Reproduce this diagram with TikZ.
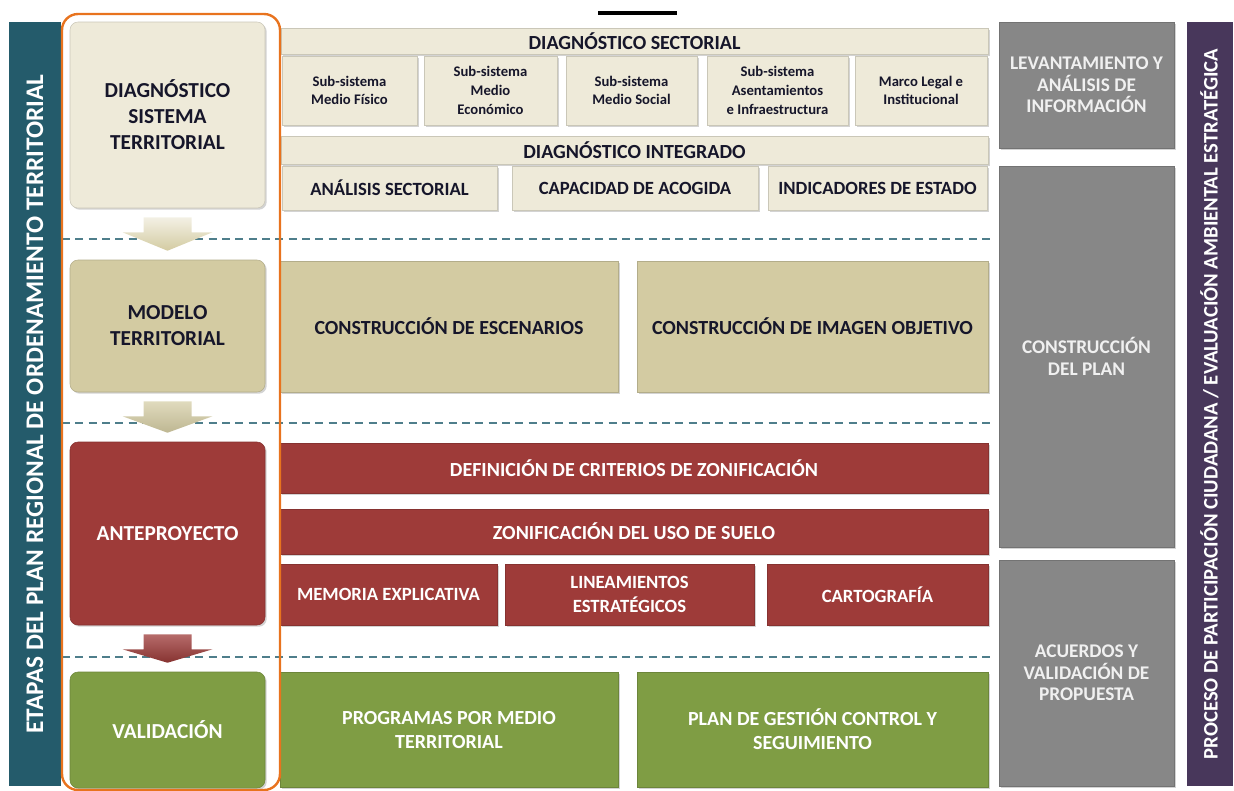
\documentclass[tikz,border=0pt]{standalone}
\usepackage{fontspec}
\setmainfont{Carlito}
\usetikzlibrary{positioning,shadows,calc}

\definecolor{cEtapa}{HTML}{245B6B}
\definecolor{cProceso}{HTML}{48375B}
\definecolor{cGris}{HTML}{878787}
\definecolor{cCrema}{HTML}{EEEAD9}
\definecolor{cArena}{HTML}{D3CBA2}
\definecolor{cRojo}{HTML}{9E3B39}
\definecolor{cVerde}{HTML}{7F9D44}
\definecolor{cNaranja}{HTML}{E8731E}
\definecolor{cRaya}{HTML}{4E7E8B}
\definecolor{cTinta}{HTML}{16162A}

\tikzset{
  wh/.style 2 args={minimum width=#1*0.75pt, minimum height=#2*0.75pt},
  caja/.style={inner sep=1pt, align=center, drop shadow={opacity=.35, shadow xshift=1.3pt, shadow yshift=-1.3pt}},
  etapa/.style={caja, rounded corners=6pt, font=\bfseries\fontsize{16}{19.5}\selectfont},
  crema/.style={fill=cCrema, draw=cCrema!85!black, text=cTinta},
  arena/.style={fill=cArena, draw=cArena!85!black, text=cTinta},
  rojo/.style={fill=cRojo, draw=cRojo!85!black, text=white},
  verde/.style={fill=cVerde, draw=cVerde!85!black, text=white},
  gris/.style={caja, fill=cGris, draw=cGris!85!black, text=white!94!black, font=\bfseries\fontsize{14.5}{16}\selectfont},
  cabeza/.style={font=\bfseries\fontsize{15}{18}\selectfont},
  subt/.style={font=\bfseries\fontsize{11}{14}\selectfont},
  medio/.style={font=\bfseries\fontsize{14}{18.5}\selectfont},
  raya/.style={cRaya, dash pattern=on 6pt off 4pt, line width=1pt},
}

\begin{document}
\begin{tikzpicture}[x=0.75pt,y=-0.75pt]
  \useasboundingbox (0,0) rectangle (1234,790);
  \draw[line width=2.3pt] (598,13) -- (677,13);

  % separadores entre etapas
  \foreach \y in {239,423,657}
    \draw[raya] (62,\y) -- (995,\y);

  % barras laterales
  \node[fill=cEtapa, wh={764}{52}, rotate=90, text=white,
        font=\bfseries\fontsize{19}{21}\selectfont] (etapas) at (35,404)
        {ETAPAS DEL PLAN REGIONAL DE ORDENAMIENTO TERRITORIAL};
  \node[fill=cProceso, wh={764}{46}, rotate=90, text=white,
        font=\bfseries\fontsize{15.5}{18}\selectfont] (proceso) at (1209.5,404)
        {PROCESO DE PARTICIPACIÓN CIUDADANA / EVALUACIÓN AMBIENTAL ESTRATÉGICA};

  % etapas
  \node[etapa, crema, wh={195}{186}] (diag) at (167.5,115) {DIAGNÓSTICO\\SISTEMA\\TERRITORIAL};
  \node[etapa, arena, wh={195}{132}] (modelo) at (167.5,326) {MODELO\\TERRITORIAL};
  \node[etapa, rojo, wh={195}{183}] (ante) at (167.5,533.5) {ANTEPROYECTO};
  \node[etapa, verde, wh={195}{116}] (valid) at (167.5,730) {VALIDACIÓN};

  % diagnostico
  \node[caja, crema, cabeza, wh={707}{26}] (sect) at (634.5,41) {DIAGNÓSTICO SECTORIAL};
  \node[caja, crema, subt, wh={135}{69}] (s1) at (349.5,90.5) {Sub-sistema\\Medio Físico};
  \node[caja, crema, subt, wh={133}{69}] (s2) at (490.5,90.5) {Sub-sistema\\Medio\\Económico};
  \node[caja, crema, subt, wh={131}{69}] (s3) at (631.5,90.5) {Sub-sistema\\Medio Social};
  \node[caja, crema, subt, wh={141}{69}] (s4) at (777.5,90.5) {Sub-sistema\\Asentamientos\\e Infraestructura};
  \node[caja, crema, subt, wh={132}{69}] (s5) at (921,90.5) {Marco Legal e\\Institucional};
  \node[caja, crema, cabeza, wh={707}{28}] (integ) at (634.5,150) {DIAGNÓSTICO INTEGRADO};
  \node[caja, crema, medio, wh={215}{44}] (i1) at (389.5,188) {ANÁLISIS SECTORIAL};
  \node[caja, crema, medio, wh={246}{44}] (i2) at (635,188) {CAPACIDAD DE ACOGIDA};
  \node[caja, crema, medio, wh={219}{44}] (i3) at (877.5,188) {INDICADORES DE ESTADO};

  % modelo
  \node[caja, arena, cabeza, wh={338}{131}] (esc) at (449,326.5) {CONSTRUCCIÓN DE ESCENARIOS};
  \node[caja, arena, cabeza, wh={351}{131}] (img) at (812.5,326.5) {CONSTRUCCIÓN DE IMAGEN OBJETIVO};

  % anteproyecto
  \node[caja, rojo, cabeza, wh={708}{50}] (crit) at (634,468) {DEFINICIÓN DE CRITERIOS DE ZONIFICACIÓN};
  \node[caja, rojo, cabeza, wh={708}{45}] (zon) at (634,531.5) {ZONIFICACIÓN DEL USO DE SUELO};
  \node[caja, rojo, medio, wh={217}{61}] (mem) at (388.5,594.5) {MEMORIA EXPLICATIVA};
  \node[caja, rojo, medio, wh={249}{61}] (lin) at (629.5,594.5) {LINEAMIENTOS\\ESTRATÉGICOS};
  \node[caja, rojo, medio, wh={221}{61}] (car) at (877.5,594.5) {CARTOGRAFÍA};

  % validacion
  \node[caja, verde, cabeza, wh={338}{115}] (prog) at (449,729.5) {PROGRAMAS POR MEDIO\\TERRITORIAL};
  \node[caja, verde, cabeza, wh={351}{115}] (plan) at (812.5,729.5) {PLAN DE GESTIÓN CONTROL Y\\SEGUIMIENTO};

  % columna gris
  \node[gris, wh={175}{126}] (lev) at (1086.5,85) {LEVANTAMIENTO Y\\ANÁLISIS DE\\INFORMACIÓN};
  \node[gris, wh={175}{381}] (cons) at (1086.5,356.5) {CONSTRUCCIÓN\\DEL PLAN};
  \node[gris, wh={175}{226}] (acu) at (1086.5,673) {ACUERDOS Y\\VALIDACIÓN DE\\PROPUESTA};

  % flechas entre etapas
  \foreach \a/\b/\c/\d in {diag/modelo/cCrema!70!white/cArena,
                           modelo/ante/cArena!70!white/cArena!90!black,
                           ante/valid/cRojo!75!white/cRojo!85!black}
    \shade[top color=\c, bottom color=\d]
      ($(\a.south)+(-24,9)$) -- ($(\a.south)+(24,9)$) -- ($(\a.south)+(24,24)$)
      -- ($(\a.south)+(45,24)$) -- ($(\b.north)+(0,-9)$) -- ($(\a.south)+(-45,24)$)
      -- ($(\a.south)+(-24,24)$) -- cycle;

  \node[draw=cNaranja, line width=1.8pt, rounded corners=12pt, wh={218}{776}] (marco) at (171,402) {};
\end{tikzpicture}
\end{document}
